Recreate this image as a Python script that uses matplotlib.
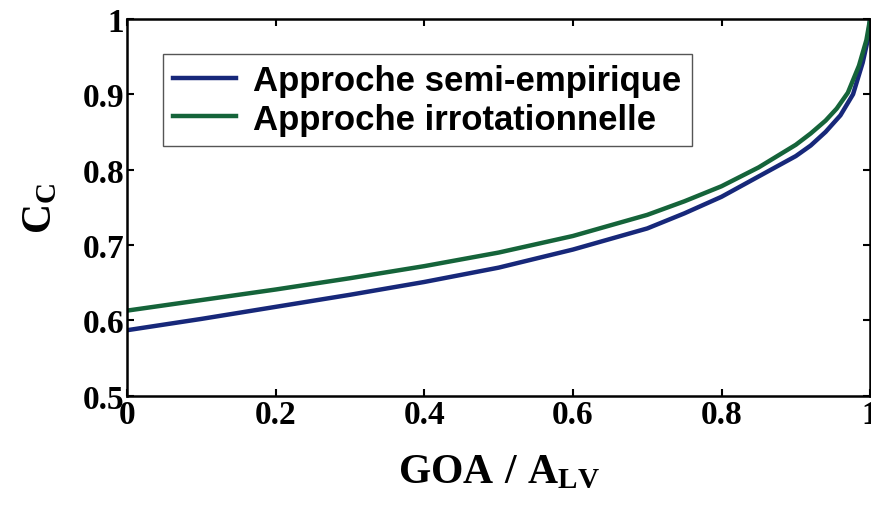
import matplotlib.pyplot as plt
import numpy as np

# GOA / A_LV ratio and Cc
ratio_semi = [0.0, 0.1, 0.2, 0.3, 0.4, 0.5, 0.6, 0.7, 0.75, 0.8, 0.85, 0.9,
              0.92, 0.94, 0.96, 0.977, 0.99, 0.997, 1.0]
semi_empirique = [0.587, 0.602, 0.618, 0.634, 0.651, 0.670, 0.694, 0.722, 0.742,
                  0.764, 0.791, 0.818, 0.832, 0.850, 0.872, 0.900, 0.942, 0.973, 1.0]
ratio_irrot = [0.0, 0.1, 0.2, 0.3, 0.4, 0.5, 0.6, 0.7, 0.75, 0.8, 0.85, 0.9,
               0.92, 0.94, 0.955, 0.97, 0.985, 0.995, 1.0]
irrotationnelle = [0.613, 0.627, 0.641, 0.656, 0.672, 0.690, 0.712, 0.740, 0.758,
                   0.778, 0.803, 0.833, 0.848, 0.865, 0.881, 0.902, 0.938, 0.972, 1.0]

x_ticks = [0, 0.2, 0.4, 0.6, 0.8, 1]
x_tick_labels = ["0", "0.2", "0.4", "0.6", "0.8", "1"]
y_ticks = [0.5, 0.6, 0.7, 0.8, 0.9, 1]
y_tick_labels = ["0.5", "0.6", "0.7", "0.8", "0.9", "1"]

plt.rcParams["mathtext.fontset"] = "custom"
plt.rcParams["mathtext.rm"] = "Liberation Serif:bold"
plt.rcParams["mathtext.bf"] = "Liberation Serif:bold"
plt.rcParams["mathtext.it"] = "Liberation Serif:bold"

fig = plt.figure(figsize=(8.71, 5.10), dpi=100)
ax = fig.add_axes([0.146, 0.222, 0.853, 0.739])

ax.plot(ratio_semi, semi_empirique, color="#17287a", lw=3.2,
        solid_joinstyle="round", label="Approche semi-empirique")
ax.plot(ratio_irrot, irrotationnelle, color="#15643a", lw=3.2,
        solid_joinstyle="round", label="Approche irrotationnelle")

ax.set_xlim(0, 1)
ax.set_ylim(0.5, 1)
ax.set_xticks(x_ticks)
ax.set_xticklabels(x_tick_labels)
ax.set_yticks(y_ticks)
ax.set_yticklabels(y_tick_labels)

for lab in ax.get_xticklabels() + ax.get_yticklabels():
    lab.set_fontfamily("Liberation Serif")
    lab.set_fontweight("bold")
    lab.set_fontsize(24)

ax.tick_params(direction="in", length=5, width=1.5, top=True, right=True, pad=2)
for s in ax.spines.values():
    s.set_linewidth(1.8)

ax.set_xlabel(r"$\mathrm{GOA\ /\ A_{LV}}$", fontsize=30, labelpad=14)
ax.set_ylabel(r"$\mathrm{C_{C}}$", fontsize=30, labelpad=16)

leg = ax.legend(loc="upper left", bbox_to_anchor=(0.048, 0.907), borderaxespad=0,
                fancybox=False,
                prop={"family": "Liberation Sans", "weight": "bold", "size": 25},
                handlelength=1.8, handletextpad=0.5, borderpad=0.3, labelspacing=0.15,
                framealpha=1)
leg.get_frame().set_edgecolor("#555555")
leg.get_frame().set_linewidth(1.0)

fig.savefig("out.png", dpi=100)
